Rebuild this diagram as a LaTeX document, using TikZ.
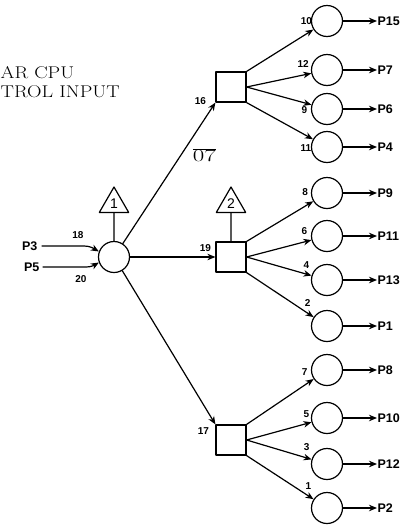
\documentclass[tikz,border=0pt]{standalone}
\usepackage{fontspec}
\setsansfont{Liberation Sans}
\usetikzlibrary{arrows.meta,shapes.geometric,positioning}
\tikzset{
  cell/.style={circle,draw,minimum size=31pt,inner sep=0pt},
  box/.style={rectangle,draw,minimum size=30pt,inner sep=0pt},
  flag/.style={regular polygon,regular polygon sides=3,draw,minimum size=34pt,inner sep=0pt,
    font=\sffamily\fontsize{14}{14}\selectfont},
  num/.style={font=\sffamily\bfseries\fontsize{10}{10}\selectfont,inner sep=0pt},
  plab/.style={font=\sffamily\bfseries\fontsize{12.5}{13}\selectfont,inner sep=0pt}
}
\begin{document}
\begin{tikzpicture}[x=1pt,y=-1pt,line width=1.2pt,line join=round,line cap=round,
    >={Stealth[length=8pt,width=6.5pt,inset=2.5pt]}]
  \useasboundingbox (0,0) rectangle (401,528);
  % note, cut at the left edge
  \node[anchor=north west,align=left,inner sep=0pt,xscale=1.18,
    font=\fontsize{17}{19}\selectfont] (note) at (0,66) {AR CPU\\TROL INPUT};
  % inputs and hub
  \node[cell] (hub) at (114,257) {};
  \node[flag] (f1) at (114,204) {1};
  \draw (f1.south) -- (hub);
  \node[plab,anchor=east] (p3) at (38,246) {P3};
  \node[plab,anchor=east] (p5) at (40,267) {P5};
  \draw[->] ([xshift=4pt]p3.east) -- ++(42,0) to[out=0,in=150] (hub.160)
    node[num,at end,shift={(-6,-11)}]{18};
  \draw[->] ([xshift=3pt]p5.east) -- ++(43,0) to[out=0,in=210] (hub.200)
    node[num,at end,shift={(-5,12)}]{20};
  % second stage
  \node[box] (b16) at (231,87) {};
  \node[box] (b19) at (231,257) {};
  \node[box] (b17) at (231,440) {};
  \node[flag] (f2) at (231,204) {2};
  \draw (f2.south) -- (b19);
  \draw[->] (hub) -- (b16.south west) node[num,at end,shift={(-15,-2)}]{16}
    node[pos=0.7,below right,inner sep=3pt,xscale=1.45,font=\fontsize{16}{16}\selectfont]{$\overline{07}$};
  \draw[->] (hub) -- (b19.west) node[num,at end,shift={(-10,-9)}]{19};
  \draw[->] (hub) -- (b17.north west) node[num,at end,shift={(-12,7)}]{17};
  % outputs
  \foreach \n/\y/\p in {10/21/P15,12/70/P7,9/109/P6,11/147/P4,8/193/P9,6/236/P11,
      4/280/P13,2/326/P1,7/370/P8,5/418/P10,3/464/P12,1/508/P2}{
    \node[cell] (c\n) at (327,\y) {};
    \node[plab,anchor=west] (o\n) at (377,\y) {\p};
    \draw[->] (c\n) -- (o\n);
  }
  \foreach \b/\a/\n/\dx/\dy in {b16/north east/10/-7/-8,b16/east/12/-8/-9,
      b16/east/9/-7/5,b16/south east/11/-7/9,
      b19/north east/8/-8/-9,b19/east/6/-7/-9,b19/east/4/-5/-11,b19/south east/2/-6/-14,
      b17/north east/7/-9/-7,b17/east/5/-5/-8,b17/east/3/-5/-12,b17/south east/1/-5/-13}
    \draw[->] (\b.\a) -- (c\n) node[num,at end,shift={(\dx,\dy)}]{\n};
\end{tikzpicture}
\end{document}
